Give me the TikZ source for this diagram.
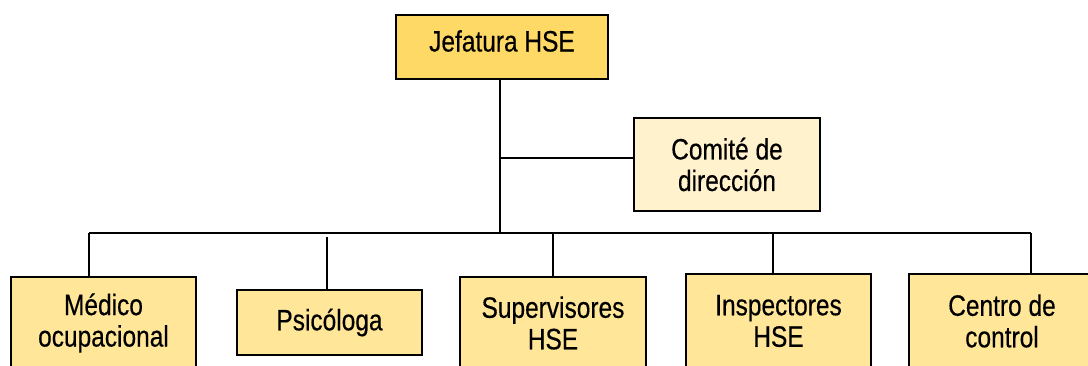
\documentclass[tikz,border=0pt]{standalone}
\usepackage{fontspec}
\setmainfont{Liberation Sans}[FakeStretch=0.83,FakeBold=0.4]
\definecolor{gold}{HTML}{FFD966}
\definecolor{lightgold}{HTML}{FFE699}
\definecolor{palegold}{HTML}{FFF2CC}
\begin{document}
\begin{tikzpicture}[x=1pt,y=-1pt,
  box/.style={draw=black, line width=2pt, rectangle, align=center, inner sep=0pt,
    font=\fontsize{29.5}{31.5}\selectfont},
  conn/.style={draw=black, line width=1.8pt}]
\useasboundingbox (0,0) rectangle (1088,365);
\clip (0,0) rectangle (1088,365);
\node[box, fill=gold, minimum width=212pt, minimum height=64pt, text depth=9pt, text height=18pt] (jef) at (502,47) {Jefatura HSE};
\node[box, fill=palegold, minimum width=186pt, minimum height=93pt] (com) at (727,164.5) {Comité de\\dirección};
\node[box, fill=lightgold, minimum width=185pt, minimum height=92pt] (med) at (103.5,323) {Médico\\ocupacional};
\node[box, fill=lightgold, minimum width=185pt, minimum height=65pt] (psi) at (329.5,322.5) {Psicóloga};
\node[box, fill=lightgold, minimum width=186pt, minimum height=92pt] (sup) at (553,323) {Supervisores\\HSE};
\node[box, fill=lightgold, minimum width=185pt, minimum height=94pt] (ins) at (778.5,321) {Inspectores\\HSE};
\node[box, fill=lightgold, minimum width=186pt, minimum height=94pt] (cen) at (1002,321) {Centro de\\control};
\coordinate (tb) at (500,233);
\coordinate (tc) at (500,158);
\coordinate (bl) at (89,233);
\coordinate (br) at (1031,233);
\coordinate (ptop) at (327,237);
\draw[conn] (jef.south -| tb) -- (tb);
\draw[conn] (tc) -- (tc -| com.west);
\draw[conn] (bl) -- (br);
\draw[conn] (bl) -- (bl |- med.north);
\draw[conn] (ptop) -- (ptop |- psi.north);
\draw[conn] (sup.north |- tb) -- (sup.north);
\draw[conn] (773,233) -- (773,233 |- ins.north);
\draw[conn] (br) -- (br |- cen.north);
\end{tikzpicture}
\end{document}
